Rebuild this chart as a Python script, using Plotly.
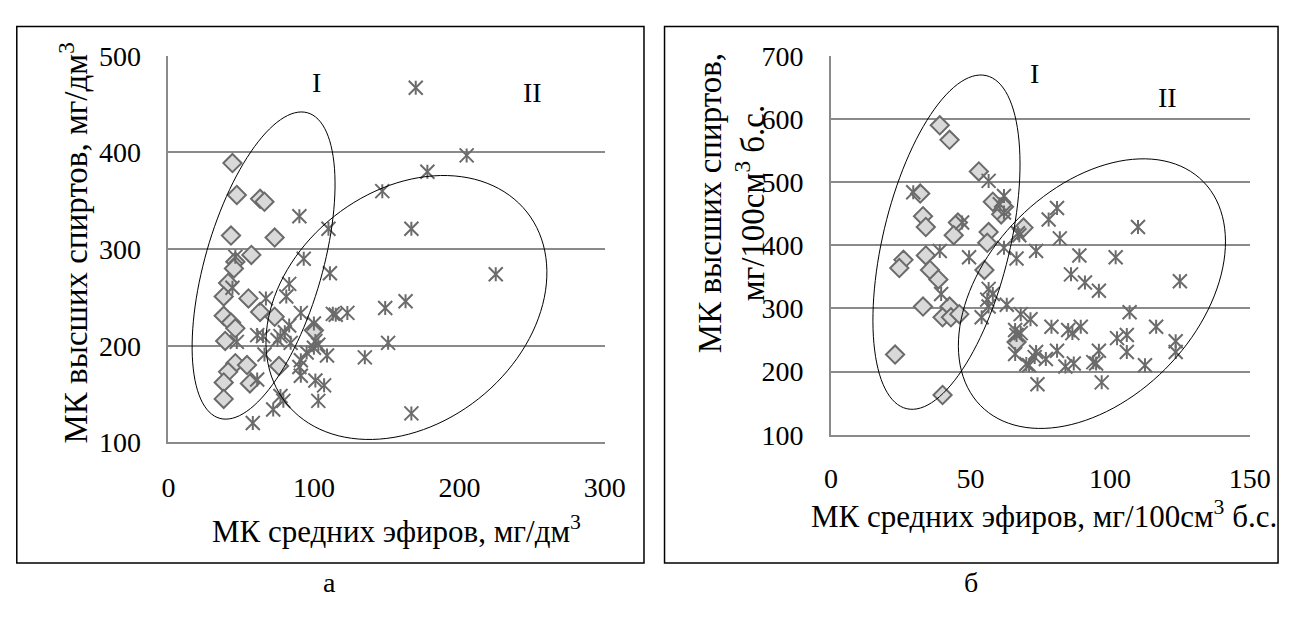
import numpy as np
import plotly.graph_objects as go

W, H = 1301, 617

# ---------------- DATA: panel "а" (mg/dm3) ----------------
a_I_x = [44, 47, 63, 66, 43, 73, 57, 46, 45, 41, 38, 55, 38, 43, 46, 63, 73, 39, 46, 54, 41, 38, 56, 38, 76, 100]
a_I_y = [389, 356, 352, 349, 314, 312, 294, 287, 280, 265, 251, 249, 231, 224, 218, 235, 230, 205, 182, 180, 173, 162, 161, 145, 179, 216]

a_II_x = [170, 205, 178, 147, 167, 225, 163, 149, 151, 135, 167,
          90, 110, 93, 111, 46, 44, 83, 81, 67, 91, 113, 115, 123, 100, 83,
          61, 65, 77, 80, 75, 101, 103, 84, 66, 95, 109, 91, 90, 91, 101,
          107, 61, 77, 79, 103, 72, 58, 47, 100]
a_II_y = [467, 397, 380, 360, 321, 274, 246, 239, 203, 188, 130,
          334, 321, 290, 275, 292, 260, 264, 251, 249, 234, 233, 232, 234, 223, 221,
          211, 210, 210, 214, 206, 205, 201, 203, 191, 193, 190, 185, 178, 169, 164,
          159, 165, 148, 143, 143, 134, 120, 204, 198]

# ---------------- DATA: panel "б" (mg/100cm3 a.s.) ----------------
b_I_x = [39, 42.5, 53, 32, 58, 61, 62, 33, 34, 45.5, 44, 56.5, 56, 69, 26, 24.5, 34,
         35.5, 38.5, 55, 33, 42.5, 40, 43, 46, 23, 40, 66.5]
b_I_y = [590, 567, 517, 482, 469, 449, 461, 446, 429, 436, 416, 421, 404, 428, 377, 364, 384,
         361, 346, 361, 303, 303, 286, 286, 291, 227, 163, 247]

b_II_x = [29.5, 56.5, 62, 60.5, 62, 47, 39, 49.5, 62, 66.5, 67, 39.5, 56.5, 58, 56, 56.5,
          54, 63, 68, 66, 66, 66.5, 70, 71.5,
          81, 78, 82, 110, 67.5, 73.5, 89, 102, 86, 91, 96, 125, 107, 79, 85, 86.5,
          89.5, 102.5, 106, 106, 116.5, 123.5, 123.5, 112.5, 96, 94, 95, 87, 84, 81,
          77, 73.5, 73, 71, 74, 97, 68]
b_II_y = [484, 502, 478, 465, 452, 436, 391, 381, 396, 379, 419, 323, 331, 323, 314, 303,
          286, 306, 291, 266, 228, 258, 212, 283,
          459, 441, 411, 429, 416, 391, 384, 381, 354, 341, 328, 343, 294, 271, 266, 261,
          271, 253, 258, 231, 271, 248, 231, 210, 233, 215, 213, 213, 208, 233,
          220, 231, 223, 210, 180, 183, 261]

# axis settings
a_xrange, a_yrange = [0, 300], [100, 500]
b_xrange, b_yrange = [0, 150], [100, 700]
a_xticks = [0, 100, 200, 300]
a_yticks = [100, 200, 300, 400, 500]
b_xticks = [0, 50, 100, 150]
b_yticks = [100, 200, 300, 400, 500, 600, 700]

# plot areas in pixels (left, right, top, bottom)
A = (165, 611, 43, 450)
B = (842, 1270, 43, 442)

FONT = "Liberation Serif"
GRID = "#8a8a8a"
DIAM_FILL = "#d9d9d9"
MARK_LINE = "#6b6b6b"
TICK_SIZE = 28
XTITLE_SIZE = 31
YTITLE_SIZE = 33


def dom(p):
    l, r, t, b = p
    return [l / W, r / W], [1 - b / H, 1 - t / H]


fig = go.Figure()


def add_group(x, y, xa, ya, kind):
    if kind == "diamond":
        fig.add_trace(go.Scatter(x=x, y=y, mode="markers", xaxis=xa, yaxis=ya,
                                 marker=dict(symbol="diamond", size=14, color=DIAM_FILL,
                                             line=dict(color=MARK_LINE, width=2)),
                                 showlegend=False, hoverinfo="x+y"))
    else:
        fig.add_trace(go.Scatter(x=x, y=y, mode="markers", xaxis=xa, yaxis=ya,
                                 marker=dict(symbol="x-thin-open", size=14, color=MARK_LINE,
                                             line=dict(color=MARK_LINE, width=2)),
                                 showlegend=False, hoverinfo="x+y"))
        fig.add_trace(go.Scatter(x=x, y=y, mode="markers", xaxis=xa, yaxis=ya,
                                 marker=dict(symbol="line-ns-open", size=10, color=MARK_LINE,
                                             line=dict(color=MARK_LINE, width=2)),
                                 showlegend=False, hoverinfo="skip"))


# diamonds first, asterisks drawn on top (as in the reference)
add_group(a_I_x, a_I_y, "x", "y", "diamond")
add_group(a_II_x, a_II_y, "x", "y", "star")
add_group(b_I_x, b_I_y, "x2", "y2", "diamond")
add_group(b_II_x, b_II_y, "x2", "y2", "star")


def ellipse_path(cx, cy, a_px, b_px, ang, p, xr, yr):
    kx = (p[1] - p[0]) / (xr[1] - xr[0])
    ky = (p[3] - p[2]) / (yr[1] - yr[0])
    t = np.linspace(0, 2 * np.pi, 121)
    al = np.radians(ang)
    dx = a_px * np.cos(t) * np.cos(al) - b_px * np.sin(t) * np.sin(al)
    dy = a_px * np.cos(t) * np.sin(al) + b_px * np.sin(t) * np.cos(al)
    xs = cx + dx / kx
    ys = cy + dy / ky
    return "M " + " L ".join(f"{u:.3f},{v:.3f}" for u, v in zip(xs, ys)) + " Z"


shapes = []
for (cx, cy, ap, bp, ang) in [(65.4, 283, 167, 60, 74.5), (163.6, 239.6, 159, 121, 41.5)]:
    shapes.append(dict(type="path", xref="x", yref="y",
                       path=ellipse_path(cx, cy, ap, bp, ang, A, a_xrange, a_yrange),
                       line=dict(color="black", width=1)))
for (cx, cy, ap, bp, ang) in [(41.4, 405, 180, 65, 77), (93.5, 323.5, 164, 109, 47.9)]:
    shapes.append(dict(type="path", xref="x2", yref="y2",
                       path=ellipse_path(cx, cy, ap, bp, ang, B, b_xrange, b_yrange),
                       line=dict(color="black", width=1)))

# outer frames
for (l, r) in [(10, 651), (672, 1299)]:
    shapes.append(dict(type="rect", xref="paper", yref="paper",
                       x0=l / W, x1=r / W, y0=1 - 577 / H, y1=1 - 12 / H,
                       line=dict(color="black", width=1.5), fillcolor="rgba(0,0,0,0)"))

ann = []
tf = dict(family=FONT, size=TICK_SIZE, color="black")
xtf = dict(family=FONT, size=XTITLE_SIZE, color="black")
ytf = dict(family=FONT, size=YTITLE_SIZE, color="black")
lf = dict(family=FONT, size=28, color="black")


def note(text, x, y, xref, yref, font, **kw):
    d = dict(text=text, x=x, y=y, xref=xref, yref=yref, showarrow=False, font=font,
             xanchor="center", yanchor="middle")
    d.update(kw)
    ann.append(d)


note("I", 102, 472, "x", "y", lf)
note("II", 250, 462, "x", "y", lf)
note("I", 73, 672, "x2", "y2", lf)
note("II", 120.6, 634, "x2", "y2", lf)

# axis titles
note("МК средних эфиров, мг/дм<sup>3</sup>", 398 / W, 1 - 542 / H, "paper", "paper", xtf)
note("МК высших спиртов, мг/дм<sup>3</sup>", 68 / W, 1 - 240 / H, "paper", "paper", ytf, textangle=-90)
note("МК средних эфиров, мг/100см<sup>3</sup> б.с.", 1300 / W, 1 - 526 / H, "paper", "paper", xtf,
     xanchor="right")
note("МК высших спиртов,<br>мг/100см<sup>3</sup> б.с.", 740 / W, 1 - 198 / H, "paper", "paper", ytf,
     textangle=-90)
# captions
note("а", 330 / W, 1 - 598 / H, "paper", "paper", lf)
note("б", 985 / W, 1 - 598 / H, "paper", "paper", lf)

axis_common = dict(showline=True, linecolor=GRID, linewidth=1.5, zeroline=False, ticks="",
                   tickfont=tf)
ax_dom, ay_dom = dom(A)
bx_dom, by_dom = dom(B)

fig.update_layout(
    width=W, height=H, margin=dict(l=0, r=0, t=0, b=0),
    paper_bgcolor="white", plot_bgcolor="white", showlegend=False,
    xaxis=dict(domain=ax_dom, range=a_xrange, tickvals=a_xticks, showgrid=False,
               anchor="y", ticklabelstandoff=19, **axis_common),
    yaxis=dict(domain=ay_dom, range=a_yrange, tickvals=a_yticks, showgrid=True,
               gridcolor=GRID, gridwidth=1.5, anchor="x", ticklabelstandoff=20, **axis_common),
    xaxis2=dict(domain=bx_dom, range=b_xrange, tickvals=b_xticks, showgrid=False,
                anchor="y2", ticklabelstandoff=18, **axis_common),
    yaxis2=dict(domain=by_dom, range=b_yrange, tickvals=b_yticks, showgrid=True,
                gridcolor=GRID, gridwidth=1.5, anchor="x2", ticklabelstandoff=20, **axis_common),
    shapes=shapes, annotations=ann,
)

fig.write_html("out.html")
